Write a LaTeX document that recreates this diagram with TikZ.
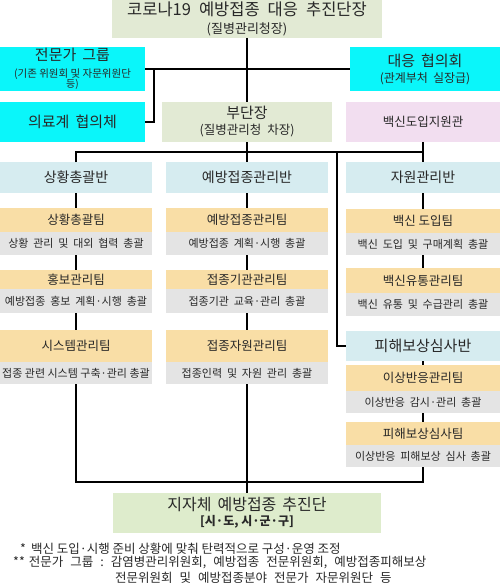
\documentclass[tikz,border=0pt]{standalone}
\usepackage{fontspec}
\setmainfont{Noto Sans CJK KR}
\definecolor{topg}{RGB}{226,234,212}
\definecolor{botg}{RGB}{222,236,204}
\definecolor{cyanc}{RGB}{10,246,250}
\definecolor{pinkc}{RGB}{242,222,240}
\definecolor{secb}{RGB}{214,236,240}
\definecolor{orng}{RGB}{249,222,166}
\definecolor{greyc}{RGB}{228,228,228}
\definecolor{txt}{RGB}{40,40,40}
\newcommand\wsp[1][7pt]{\hspace{#1}}
\newcommand\descfont{\fontsize{11}{13}\selectfont\spaceskip=4.8pt\relax}
\newcommand\mybox[7]{%
  \node[#2, minimum width={(#5-#3)*1pt}, minimum height={(#6-#4)*1pt}] (#1) at ({(#3+#5)/2},{(#4+#6)/2}) {#7};}
\tikzset{
  bxbase/.style={inner sep=0pt, outer sep=0pt, align=center, text=txt},
  topbx/.style={bxbase, fill=topg},
  botbx/.style={bxbase, fill=botg},
  cyanbx/.style={bxbase, fill=cyanc},
  pinkbx/.style={bxbase, fill=pinkc},
  secbx/.style={bxbase, fill=secb, font=\fontsize{14}{16}\selectfont},
  teambx/.style={bxbase, fill=orng, font=\fontsize{12.5}{14}\selectfont},
  descbx/.style={bxbase, fill=greyc, font=\descfont},
  link/.style={line width=1.2pt, draw=black, line join=miter},
  note/.style={inner sep=0pt, text=txt, font=\fontsize{12.5}{15}\selectfont, anchor=base west}
}
\begin{document}
\begin{tikzpicture}[x=1pt,y=-1pt]
\useasboundingbox (0,0) rectangle (500,586);
% top level
\mybox{top}{topbx}{112}{0}{382}{38}{{\fontsize{16.5}{18}\selectfont 코로나19\wsp[8pt]예방접종\wsp[8pt]대응\wsp[8pt]추진단장}\\[5pt]{\fontsize{13}{14}\selectfont (질병관리청장)}}
\mybox{expert}{cyanbx}{0}{47}{145}{91}{{\fontsize{15}{17}\selectfont 전문가\wsp[6pt]그룹}\\[5pt]{\fontsize{10.5}{9}\selectfont (기존 위원회 및 자문위원단}\\[-2.5pt]{\fontsize{10}{9}\selectfont 등)}}
\mybox{council}{cyanbx}{350}{47}{500}{91}{{\fontsize{15}{17}\selectfont 대응\wsp[6pt]협의회}\\[4pt]{\fontsize{12}{14}\selectfont (관계부처\wsp[5pt]실장급)}}
\mybox{medical}{cyanbx}{0}{102}{145}{142}{\fontsize{15}{17}\selectfont 의료계\wsp[6pt]협의체}
\mybox{vice}{topbx}{162}{102}{332}{142}{{\fontsize{15}{17}\selectfont 부단장}\\[4pt]{\fontsize{12.5}{14}\selectfont (질병관리청\wsp[6pt]차장)}}
\mybox{vacsup}{pinkbx}{346}{102}{500}{142}{\fontsize{12.5}{15}\selectfont 백신도입지원관}
% sections
\mybox{sA}{secbx}{0}{162}{152}{193}{상황총괄반}
\mybox{sB}{secbx}{166}{162}{328}{193}{예방접종관리반}
\mybox{sC}{secbx}{346}{162}{500}{193}{자원관리반}
\mybox{sD}{secbx}{346}{331}{500}{361}{\fontsize{15}{16}\selectfont 피해보상심사반}
% left column teams
\mybox{aT1}{teambx}{0}{208}{152}{232}{상황총괄팀}
\mybox{aD1}{descbx}{0}{232}{152}{255}{상황 관리 및 대외 협력 총괄}
\mybox{aT2}{teambx}{0}{270}{152}{289}{홍보관리팀}
\mybox{aD2}{descbx}{0}{289}{152}{313}{예방접종 홍보 계획·시행 총괄}
\mybox{aT3}{teambx}{0}{330}{152}{362}{시스템관리팀}
\mybox{aD3}{descbx}{0}{362}{152}{384}{\spaceskip=0pt\relax 접종 관련 시스템 구축·관리 총괄}
% middle column teams
\mybox{bT1}{teambx}{166}{208}{328}{232}{예방접종관리팀}
\mybox{bD1}{descbx}{166}{232}{328}{255}{예방접종 계획·시행 총괄}
\mybox{bT2}{teambx}{166}{270}{328}{289}{접종기관관리팀}
\mybox{bD2}{descbx}{166}{289}{328}{313}{접종기관 교육·관리 총괄}
\mybox{bT3}{teambx}{166}{330}{328}{362}{접종자원관리팀}
\mybox{bD3}{descbx}{166}{362}{328}{384}{접종인력 및 자원 관리 총괄}
% right column teams
\mybox{cT1}{teambx}{346}{209}{500}{233}{백신 도입팀}
\mybox{cD1}{descbx}{346}{233}{500}{255}{백신 도입 및 구매계획 총괄}
\mybox{cT2}{teambx}{346}{268}{500}{293}{백신유통관리팀}
\mybox{cD2}{descbx}{346}{293}{500}{316}{백신 유통 및 수급관리 총괄}
\mybox{dT1}{teambx}{346}{365}{500}{391}{이상반응관리팀}
\mybox{dD1}{descbx}{346}{391}{500}{413}{이상반응 감시·관리 총괄}
\mybox{dT2}{teambx}{346}{422}{500}{445}{피해보상심사팀}
\mybox{dD2}{descbx}{346}{445}{500}{467}{이상반응 피해보상 심사 총괄}
% bottom
\mybox{bottom}{botbx}{113}{493}{381}{533}{{\fontsize{16}{18}\selectfont 지자체\wsp[6pt]예방접종\wsp[6pt]추진단}\\[3pt]{\fontsize{12}{14}\selectfont\bfseries [시·도, 시·군·구]}}
% connectors
\draw[link] (top.south) -- (vice.north);
\draw[link] (expert.east) -- (council.west);
\coordinate (mj) at (154,69);
\draw[link] (medical.east) -| (mj);
\coordinate (bar) at (0,152);
\draw[link] (vice.south) -- (sB.north);
\draw[link] (sA.north) |- (vice.south |- bar) -- (vacsup.south |- bar);
\draw[link] (vacsup.south) -- (sC.north);
\coordinate (br) at (337,152);
\draw[link] (br) |- (sD.west);
\draw[link] (sA.south) -- (aT1.north);
\draw[link] (aD1.south) -- (aT2.north);
\draw[link] (aD2.south) -- (aT3.north);
\draw[link] (sB.south) -- (bT1.north);
\draw[link] (bD1.south) -- (bT2.north);
\draw[link] (bD2.south) -- (bT3.north);
\draw[link] (sC.south) -- (cT1.north);
\draw[link] (cD1.south) -- (cT2.north);
\draw[link] (sD.south) -- (dT1.north);
\draw[link] (dD1.south) -- (dT2.north);
\coordinate (bbar) at (0,482);
\draw[link] (aD3.south) |- (bottom.north |- bbar) -| (dD2.south);
\draw[link] (bD3.south) -- (bottom.north);
% notes
\node[note] (n1) at (20,553) {*\hspace{5pt}백신 도입·시행 준비 상황에 맞춰 탄력적으로 구성·운영 조정};
\node[note] (n2) at (13,566) {**\hspace{4pt}전문가\wsp 그룹\wsp :\wsp 감염병관리위원회,\wsp 예방접종\wsp 전문위원회,\wsp 예방접종피해보상};
\node[note] (n3) at (115,582) {전문위원회\wsp 및\wsp 예방접종분야\wsp 전문가\wsp 자문위원단\wsp 등};
\end{tikzpicture}
\end{document}
